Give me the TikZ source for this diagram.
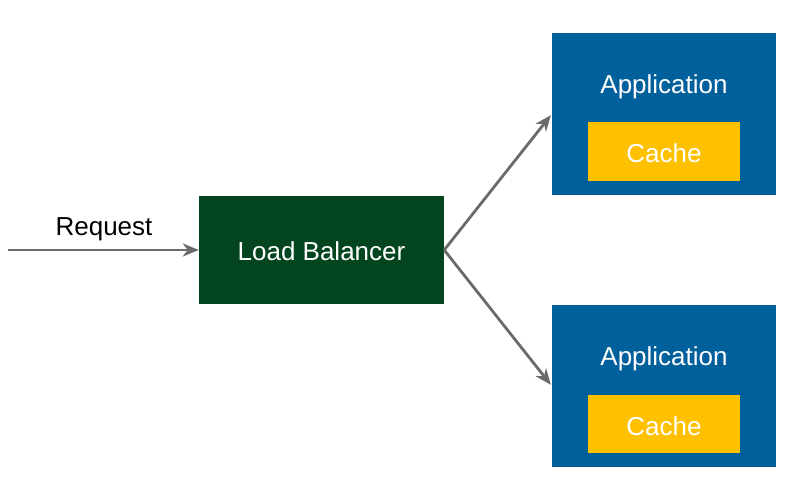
\documentclass[tikz,border=0pt]{standalone}
\usepackage{fontspec}
\setmainfont{Liberation Sans}
\usetikzlibrary{arrows.meta}
\definecolor{lbgreen}{HTML}{02451E}
\definecolor{appblue}{HTML}{00609C}
\definecolor{cacheyellow}{HTML}{FFC000}
\definecolor{arrowgray}{HTML}{6A6A6A}
\begin{document}
\begin{tikzpicture}[x=1pt,y=-1pt,
  box/.style={draw=none, inner sep=0pt, text=white, font=\fontsize{26}{30}\selectfont},
  conn/.style={draw=arrowgray, line width=2.8pt, -{Stealth[length=16pt,width=13pt,inset=5pt]}}]
\useasboundingbox (0,0) rectangle (800,487);
\node[box, fill=lbgreen, minimum width=245pt, minimum height=108pt] (lb) at (321.5,250) {};
\node[box] (lbtxt) at (321.5,251) {Load Balancer};
\node[box, fill=appblue, minimum width=224pt, minimum height=162pt] (app1) at (664,114) {};
\node[box, fill=appblue, minimum width=224pt, minimum height=162pt] (app2) at (664,386) {};
\node[box, fill=cacheyellow, minimum width=152pt, minimum height=59pt] (cache1) at (664,151.5) {};
\node[box, fill=cacheyellow, minimum width=152pt, minimum height=58pt] (cache2) at (664,424) {};
\node[box] (cachetxt1) at (664,153.5) {Cache};
\node[box] (cachetxt2) at (664,426) {Cache};
\node[box] (apptxt1) at (664,87) {Application};
\node[box] (apptxt2) at (664,359) {Application};
\coordinate (req) at (8,250);
\node[box, text=black] (reqlbl) at (104,229) {Request};
\draw[conn] (req) -- (lb.west);
\draw[conn, shorten >=1.5pt] (lb.east) -- (app1.west);
\draw[conn, shorten >=1.5pt] (lb.east) -- (app2.west);
\end{tikzpicture}
\end{document}
